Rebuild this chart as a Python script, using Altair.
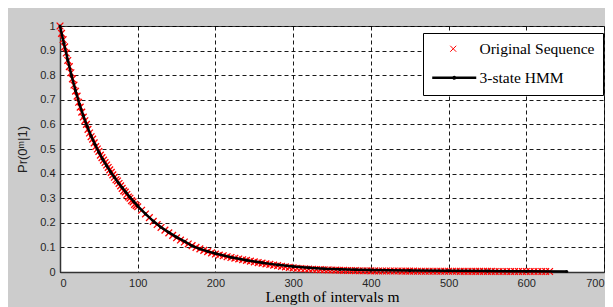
import altair as alt
import pandas as pd

# ---- data ----
hmm_m = [0, 5, 10, 15, 20, 25, 30, 35, 40, 45, 50, 55, 60, 65, 70, 75, 80, 85, 90, 95, 100,
         110, 120, 130, 140, 150, 160, 170, 180, 190, 200,
         220, 240, 260, 280, 300, 320, 340, 360, 380, 400,
         450, 500, 550, 600, 652]
hmm_p = [1.0, 0.93, 0.862, 0.797, 0.737, 0.683, 0.635, 0.592, 0.553, 0.519, 0.487, 0.458, 0.432,
         0.408, 0.385, 0.363, 0.343, 0.323, 0.304, 0.286, 0.268,
         0.236, 0.207, 0.182, 0.161, 0.142, 0.125, 0.106, 0.094, 0.084, 0.075,
         0.060, 0.048, 0.038, 0.029, 0.022, 0.017, 0.013, 0.011, 0.009, 0.008,
         0.006, 0.005, 0.004, 0.003, 0.002]

orig_m = list(range(0, 101, 2)) + list(range(105, 631, 5))
orig_p = [1.0, 0.97, 0.945, 0.915, 0.89, 0.86, 0.835, 0.81, 0.785, 0.76,
          0.735, 0.715, 0.69, 0.67, 0.65, 0.63, 0.615, 0.6, 0.58, 0.565,
          0.55, 0.54, 0.525, 0.51, 0.5, 0.49, 0.475, 0.465, 0.455, 0.445,
          0.435, 0.425, 0.415, 0.405, 0.395, 0.385, 0.375, 0.37, 0.36, 0.35,
          0.34, 0.33, 0.325, 0.315, 0.305, 0.3, 0.29, 0.285, 0.275, 0.27,
          0.265,
          0.251, 0.236, 0.221, 0.206, 0.193, 0.181, 0.170, 0.159, 0.149, 0.139,
          0.130, 0.122, 0.114, 0.107, 0.100, 0.094, 0.088, 0.083, 0.078, 0.073,
          0.069,
          0.066, 0.062, 0.059, 0.056, 0.053, 0.050, 0.047, 0.044, 0.041, 0.038,
          0.036, 0.033, 0.031, 0.028, 0.026, 0.023, 0.021, 0.019, 0.017, 0.015,
          0.014, 0.013, 0.012, 0.011, 0.010, 0.0095, 0.009, 0.0085, 0.008, 0.0075,
          0.007, 0.0065, 0.006, 0.006, 0.0055, 0.005, 0.005, 0.005, 0.0045,
          0.0045, 0.004, 0.004, 0.004, 0.004, 0.004, 0.004, 0.0035, 0.0035, 0.0035,
          0.0035, 0.003, 0.003, 0.003, 0.003, 0.003, 0.003, 0.003, 0.003, 0.003,
          0.003, 0.003, 0.0025, 0.0025, 0.0025, 0.0025, 0.0025, 0.0025, 0.0025, 0.0025,
          0.0025, 0.002, 0.002, 0.002, 0.002, 0.002, 0.002, 0.002, 0.002, 0.002,
          0.002, 0.002, 0.002, 0.002, 0.002, 0.002]

series_names = ["Original Sequence", "3-state HMM"]
x_ticks = [0, 100, 200, 300, 400, 500, 600, 700]
y_ticks = [0, 0.1, 0.2, 0.3, 0.4, 0.5, 0.6, 0.7, 0.8, 0.9, 1]

orig_df = pd.DataFrame({"m": orig_m, "p": orig_p, "series": series_names[0]})
hmm_df = pd.DataFrame({"m": hmm_m, "p": hmm_p, "series": series_names[1]})

XPATH = "M-1,-1L1,1M-1,1L1,-1"
LEG_X = "M1.53,-0.4L2.33,0.4M1.53,0.4L2.33,-0.4"
LEG_LINE = "M-0.87,0L5,0M1.97,0a0.1,0.1 0 1,0 0.2,0a0.1,0.1 0 1,0 -0.2,0"

x_enc = alt.X("m:Q", scale=alt.Scale(domain=[0, 700], nice=False),
              axis=alt.Axis(values=x_ticks, title="Length of intervals m",
                            titleFont="Liberation Serif", titleFontSize=15.5,
                            titleFontWeight="normal", titleColor="black",
                            titlePadding=1))
y_enc = alt.Y("p:Q", scale=alt.Scale(domain=[0, 1], nice=False),
              axis=alt.Axis(values=y_ticks, format="~g", title="Pr(0ᵐ|1)",
                            titleFont="Liberation Sans", titleFontSize=13,
                            titleFontWeight="normal", titleColor="#222222",
                            titlePadding=10))

legend = alt.Legend(
    orient="none", legendX=363, legendY=7, title=None,
    fillColor="white", strokeColor="black", padding=8, cornerRadius=0,
    labelFont="Liberation Serif", labelFontSize=15.5, labelColor="black",
    labelOffset=33, labelLimit=300, rowPadding=12, symbolSize=225,
    symbolType=alt.ExprRef(expr="datum.value == '3-state HMM' ? '" + LEG_LINE + "' : '" + LEG_X + "'"),
    symbolStrokeWidth=alt.ExprRef(expr="datum.value == '3-state HMM' ? 2.5 : 1"),
)

red_pts = alt.Chart(orig_df).mark_point(
    filled=False, opacity=1, shape=XPATH, size=45, strokeWidth=1.3
).encode(
    x=x_enc, y=y_enc,
    color=alt.Color("series:N", scale=alt.Scale(domain=series_names, range=["#ff0000", "#000000"]),
                    legend=legend),
)

line = alt.Chart(hmm_df).mark_line(color="black", strokeWidth=2.5).encode(x=x_enc, y=y_enc)

black_pts = alt.Chart(hmm_df).mark_point(
    filled=True, color="black", opacity=1, shape="circle", size=10
).encode(x=x_enc, y=y_enc)

chart = alt.layer(red_pts, line, black_pts).properties(
    width=544, height=246,
    autosize=alt.AutoSizeParams(type="none"),
    padding={"left": 52, "top": 18, "right": 1, "bottom": 35},
    background="#cccccc",
).configure_view(
    fill="white", stroke="#333333", strokeWidth=1
).configure_axis(
    grid=True, gridColor="black", gridDash=[4, 3], gridWidth=1, gridOpacity=0.9,
    ticks=False, domainColor="#333333", domainWidth=1.5,
    labelFont="Liberation Sans", labelFontSize=11, labelColor="#262626", labelPadding=5,
)

chart.save("out.html", embed_options={"renderer": "svg", "actions": False})
